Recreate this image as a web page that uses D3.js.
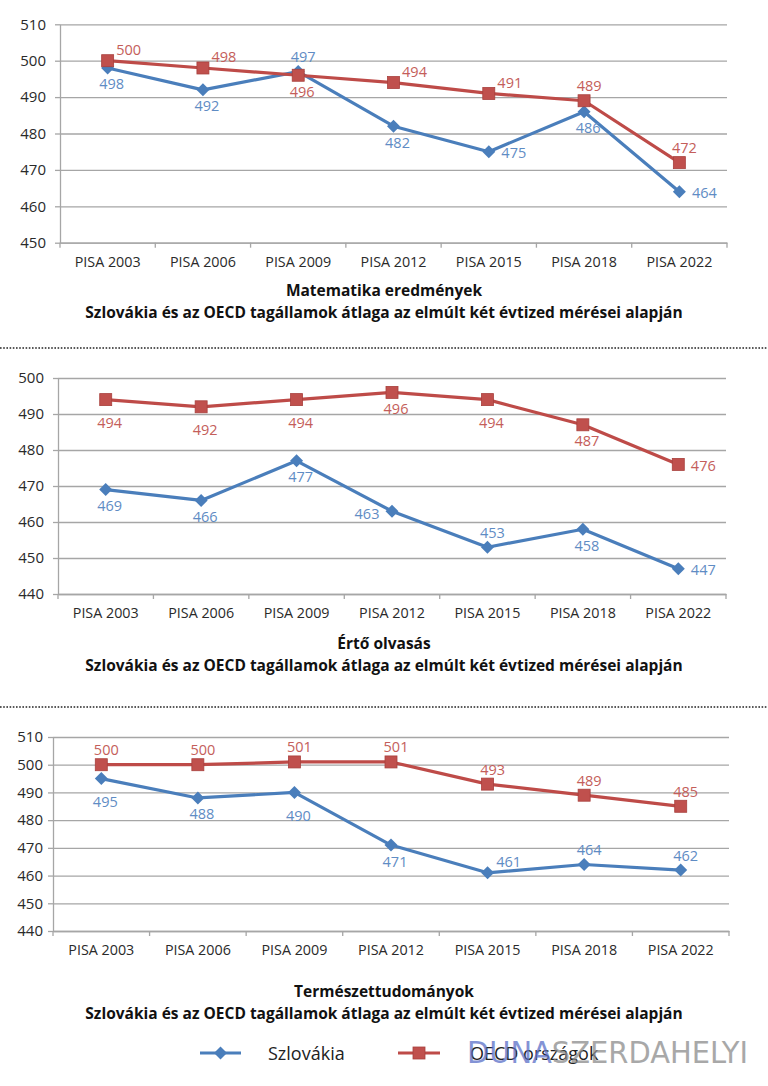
<!DOCTYPE html>
<html><head><meta charset="utf-8">
<script src="https://cdn.jsdelivr.net/npm/d3@7"></script>
<style>body{margin:0;background:#fff}svg{display:block}</style>
</head><body>
<svg id="c" width="768" height="1086"></svg>
<script>
// ---- data ----
const categories = ["PISA 2003","PISA 2006","PISA 2009","PISA 2012","PISA 2015","PISA 2018","PISA 2022"];
const seriesNames = ["Szlovákia","OECD országok"];
const mathSK   = [498,492,497,482,475,486,464];
const mathOECD = [500,498,496,494,491,489,472];
const readSK   = [469,466,477,463,453,458,447];
const readOECD = [494,492,494,496,494,487,476];
const sciSK    = [495,488,490,471,461,464,462];
const sciOECD  = [500,500,501,501,493,489,485];
const mathTicks = [450,460,470,480,490,500,510];
const readTicks = [440,450,460,470,480,490,500];
const sciTicks  = [440,450,460,470,480,490,500,510];
const titles = ["Matematika eredmények","Értő olvasás","Természettudományok"];
const subtitle = "Szlovákia és az OECD tagállamok átlaga az elmúlt két évtized mérései alapján";

// ---- label placement codes (layout) ----
const mathSKPos   = ["b","b","a","b","r","b","r"];
const mathOECDPos = ["ar","ar","b","ar","ar","a","a"];
const readSKPos   = ["b","b","b","bl","a","b","r"];
const readOECDPos = ["bb","bb","bb","b","bb","b","r"];
const sciSKPos    = ["bb","b","bb","b","ar","a","a"];
const sciOECDPos  = ["a","a","a","a","a","a","a"];
const posOff = {b:[4,16], bb:[4,23], a:[5,-15], ar:[21,-11], r:[25,1], bl:[-25,2]};

const BLUE="#4A7EBB", RED="#BE4B48", BLUE_L="#5F8CC4", RED_L="#C45E5A";
const GRID="#A6A6A6";
const FONT="'Open Sans', sans-serif";

const svg = d3.select("#c");
svg.append("rect").attr("width",768).attr("height",1086).attr("fill","#fff");

const charts = [
  {ticks:mathTicks, sk:mathSK, oecd:mathOECD, skPos:mathSKPos, oePos:mathOECDPos, x0:60, x1:727, yTop:24.3, yBot:242.7, lblGap:14, title:titles[0], tY:290, sY:312},
  {ticks:readTicks, sk:readSK, oecd:readOECD, skPos:readSKPos, oePos:readOECDPos, x0:58, x1:726, yTop:378, yBot:594, lblGap:14, title:titles[1], tY:643, sY:665},
  {ticks:sciTicks, sk:sciSK, oecd:sciOECD, skPos:sciSKPos, oePos:sciOECDPos, x0:53, x1:729, yTop:737, yBot:931, lblGap:10, title:titles[2], tY:991, sY:1013}
];

function diamond(g, cx, cy, r, fill){
  g.append("path").attr("d",`M${cx},${cy-r}L${cx+r},${cy}L${cx},${cy+r}L${cx-r},${cy}Z`).attr("fill",fill);
}
function square(g, cx, cy, s, fill){
  g.append("rect").attr("x",cx-s/2).attr("y",cy-s/2).attr("width",s).attr("height",s).attr("fill",fill).attr("stroke","#A8403D").attr("stroke-width",0.8);
}

charts.forEach(c=>{
  const g = svg.append("g");
  const x = d3.scaleBand().domain(categories).range([c.x0,c.x1]).paddingInner(0).paddingOuter(0);
  const ext = d3.extent(c.ticks);
  const y = d3.scaleLinear().domain(ext).range([c.yBot,c.yTop]);
  const cx = d => x(d)+x.bandwidth()/2;

  // gridlines
  g.append("g").attr("transform",`translate(${c.x0},0)`)
    .call(d3.axisLeft(y).tickValues(c.ticks).tickSize(-(c.x1-c.x0)).tickFormat(""))
    .call(a=>{a.select(".domain").remove(); a.selectAll("line").attr("stroke",GRID).attr("stroke-width",1.3);});
  // y axis with small ticks
  const ya = g.append("g").attr("transform",`translate(${c.x0},0)`)
    .call(d3.axisLeft(y).tickValues(c.ticks).tickSize(5).tickPadding(c.lblGap-5).tickSizeOuter(0));
  ya.select(".domain").attr("stroke",GRID).attr("stroke-width",1.3);
  ya.selectAll("line").attr("stroke",GRID).attr("stroke-width",1.3);
  ya.selectAll("text").attr("font-family",FONT).attr("font-size",15).attr("fill","#2a2a2a");

  // x axis
  const xa = g.append("g").attr("transform",`translate(0,${c.yBot})`)
    .call(d3.axisBottom(x).tickSize(0).tickPadding(14).tickSizeOuter(0));
  xa.select(".domain").attr("stroke",GRID).attr("stroke-width",1.3);
  xa.selectAll("text").attr("font-family",FONT).attr("font-size",14.3).attr("fill","#2a2a2a");
  // boundary tick marks
  const bounds = categories.map(d=>x(d)).concat([c.x1]);
  g.selectAll(null).data(bounds).enter().append("line")
    .attr("x1",d=>d).attr("x2",d=>d).attr("y1",c.yBot).attr("y2",c.yBot+5)
    .attr("stroke",GRID).attr("stroke-width",1.3);

  const line = d3.line().x((d,i)=>cx(categories[i])).y(d=>y(d));
  g.append("path").attr("d",line(c.sk)).attr("fill","none").attr("stroke",BLUE).attr("stroke-width",3.2).attr("stroke-linejoin","round");
  g.append("path").attr("d",line(c.oecd)).attr("fill","none").attr("stroke",RED).attr("stroke-width",3.2).attr("stroke-linejoin","round");
  c.sk.forEach((v,i)=>diamond(g,cx(categories[i]),y(v),6.5,BLUE));
  c.oecd.forEach((v,i)=>square(g,cx(categories[i]),y(v),12,"#C0504D"));

  const lbl = (vals,pos,col)=>{
    vals.forEach((v,i)=>{
      const o = posOff[pos[i]];
      g.append("text").attr("x",cx(categories[i])+o[0]).attr("y",y(v)+o[1])
        .attr("text-anchor","middle").attr("dominant-baseline","central")
        .attr("font-family",FONT).attr("font-size",14.5).attr("fill",col).text(v);
    });
  };
  lbl(c.sk,c.skPos,BLUE_L);
  lbl(c.oecd,c.oePos,RED_L);

  g.append("text").attr("x",384).attr("y",c.tY).attr("text-anchor","middle").attr("dominant-baseline","central")
    .attr("font-family",FONT).attr("font-weight",700).attr("font-size",15.5).attr("fill","#111").text(c.title);
  g.append("text").attr("x",384).attr("y",c.sY).attr("text-anchor","middle").attr("dominant-baseline","central")
    .attr("font-family",FONT).attr("font-weight",700).attr("font-size",15.5).attr("fill","#111").text(subtitle);
});

// dotted separators
[348,707].forEach(yy=>{
  svg.append("line").attr("x1",0).attr("x2",768).attr("y1",yy).attr("y2",yy)
    .attr("stroke","#222").attr("stroke-width",1.6).attr("stroke-dasharray","1.6,1.6");
});

// legend
const lg = svg.append("g");
const ly = 1053;
lg.append("line").attr("x1",200).attr("x2",241).attr("y1",ly).attr("y2",ly).attr("stroke",BLUE).attr("stroke-width",3.2);
diamond(lg,220.5,ly,6.5,BLUE);
lg.append("text").attr("x",268).attr("y",ly).attr("dominant-baseline","central").attr("font-family",FONT)
  .attr("font-size",18).attr("fill","#222").text(seriesNames[0]);
lg.append("line").attr("x1",398).attr("x2",440).attr("y1",ly).attr("y2",ly).attr("stroke",RED).attr("stroke-width",3.2);
square(lg,419,ly,12,"#C0504D");
lg.append("text").attr("x",470).attr("y",ly).attr("dominant-baseline","central").attr("font-family",FONT)
  .attr("font-size",18).attr("fill","#222").text(seriesNames[1]);

// watermark (overlaps the legend text in the reference as well)
const wm = svg.append("text").attr("x",467).attr("y",1063).attr("font-family","'DejaVu Sans Condensed','Liberation Sans Narrow',sans-serif")
  .attr("font-size",31).attr("textLength",281).attr("lengthAdjust","spacingAndGlyphs").attr("opacity",0.75);
wm.append("tspan").attr("fill","#5A6FC8").text("DUNA");
wm.append("tspan").attr("fill","#8C8C8C").text("SZERDAHELYI");
</script>
</body></html>
